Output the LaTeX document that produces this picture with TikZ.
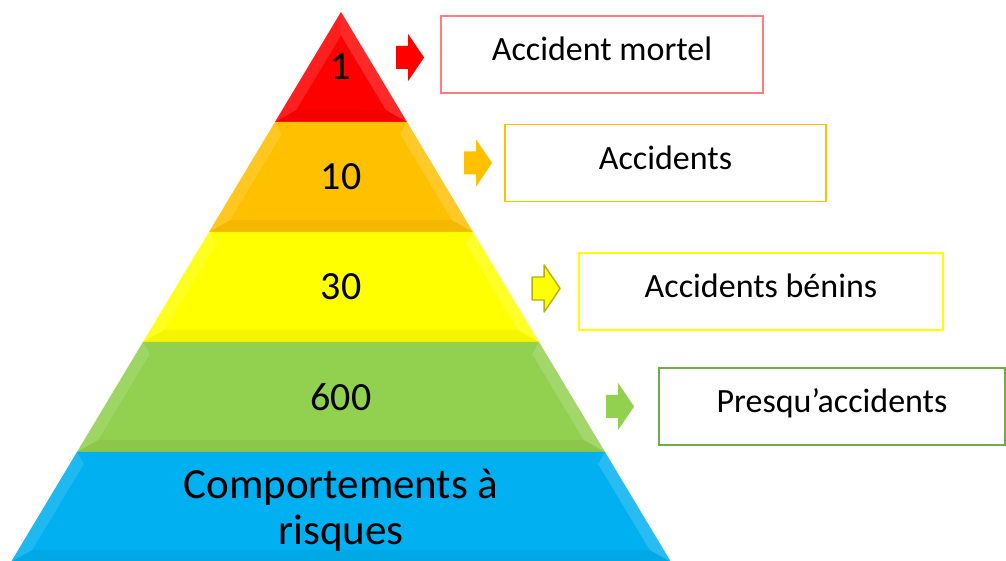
\documentclass[tikz,border=0pt]{standalone}
\usepackage{fontspec}
\setmainfont{Carlito}
\usetikzlibrary{calc}
\usetikzlibrary{positioning}
\definecolor{bandred}{HTML}{FF0000}
\definecolor{bandorange}{HTML}{FFC000}
\definecolor{bandyellow}{HTML}{FFFF00}
\definecolor{bandgreen}{HTML}{92D050}
\definecolor{bandblue}{HTML}{00B0F0}
\definecolor{edgered}{HTML}{FF7C80}
\definecolor{edgegreen}{HTML}{70AD47}
\tikzset{
 level/.style={font=\fontsize{40}{44}\selectfont, align=center, inner sep=0},
 labelbox/.style={draw, line width=1.8pt, fill=white, font=\fontsize{34}{38}\selectfont, minimum height=77pt, inner sep=0, text height=24pt, text depth=11pt},
 blockarr/.pic={\path[pic actions] (-28,-11.5) -- (-16,-11.5) -- (-16,-23.5) -- (0,0) -- (-16,23.5) -- (-16,11.5) -- (-28,11.5) -- cycle;}
}

\begin{document}
\begin{tikzpicture} [x=1pt, y=1pt]
\useasboundingbox (0,0) rectangle (1006,561);
% bands of the pyramid, top to bottom
\foreach \col [count=\i] in {bandred,bandorange,bandyellow,bandgreen,bandblue} {
 \pgfmathsetmacro\yt{549-110*(\i-1)}
 \pgfmathsetmacro\yb{\yt-110}
 \pgfmathsetmacro\wt{0.6*(549-\yt)}
 \pgfmathsetmacro\wb{0.6*(549-\yb)}
 \pgfmathsetmacro\yti{min(\yt-12,549-14/0.6)}
 \pgfmathsetmacro\ybi{\yb+12}
 \pgfmathsetmacro\wti{0.6*(549-\yti)-14}
 \pgfmathsetmacro\wbi{0.6*(549-\ybi)-14}
 \fill[\col] (341-\wt,\yt) -- (341+\wt,\yt) -- (341+\wb,\yb) -- (341-\wb,\yb) -- cycle;
 \fill[white, opacity=.12] (341-\wt,\yt) -- (341-\wti,\yti) -- (341-\wbi,\ybi) -- (341-\wb,\yb) -- cycle;
 \fill[white, opacity=.16] (341+\wt,\yt) -- (341+\wti,\yti) -- (341+\wbi,\ybi) -- (341+\wb,\yb) -- cycle;
 \fill[black, opacity=.04] (341-\wb,\yb) -- (341-\wbi,\ybi) -- (341+\wbi,\ybi) -- (341+\wb,\yb) -- cycle;
 \draw[\col!75!black, opacity=.5, line width=.8pt] (341-\wb,\yb) -- (341+\wb,\yb);
}
\node[level] (n1) at (341,494) {1};
\node[level] (n10) at (341,384) {10};
\node[level] (n30) at (341,274) {30};
\node[level] (n600) at (341,164) {600};
\node[level, font=\fontsize{43}{46}\selectfont] (risk) at (341,51) {Comportements à\\risques};

% labels on the right
\node[labelbox, draw=edgered, minimum width=322pt] (mortel) at (602,506.5) {Accident mortel};
\node[labelbox, draw=bandorange, minimum width=321pt] (acc) at (665.5,398) {Accidents};
\node[labelbox, draw=bandyellow, minimum width=364pt] (benins) at (761,269.5) {Accidents bénins};
\node[labelbox, draw=edgegreen, minimum width=346pt] (presq) at (832,154.5) {Presqu’accidents};

\pic[fill=bandred] at ([xshift=-16pt, yshift=-3pt]mortel.west) {blockarr};
\pic[fill=bandorange] at ([xshift=-12pt, yshift=0pt]acc.west) {blockarr};
\pic[fill=bandyellow, draw=bandyellow!70!black, line width=1.4pt, line join=round] at ([xshift=-18pt, yshift=3pt]benins.west) {blockarr};
\pic[fill=bandgreen] at ([xshift=-24pt, yshift=0pt]presq.west) {blockarr};
\end{tikzpicture}
\end{document}
